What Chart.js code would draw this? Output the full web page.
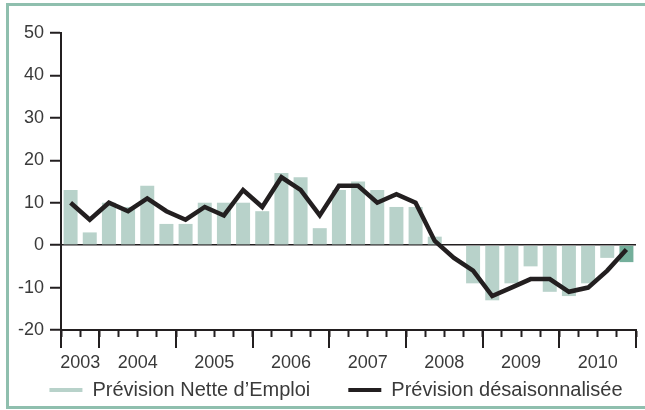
<!DOCTYPE html>
<html lang="fr">
<head>
<meta charset="utf-8">
<script src="https://cdn.jsdelivr.net/npm/chart.js@4/dist/chart.umd.min.js"></script>
<style>
  html, body { margin: 0; padding: 0; background: #fff; overflow: hidden; }
  #frame {
    position: absolute; left: 6px; top: 3px;
    width: 700px; height: 400px;
    border: 3px solid #8fbfae; border-right: none;
  }
  #chart { position: absolute; left: 7px; top: 6px; z-index: 1; display: block; }
</style>
</head>
<body>
<div id="frame"></div>
<canvas id="chart" width="658" height="404"></canvas>
<script>
// ——— Prévisions d'emploi trimestrielles, T3 2003 – T4 2010 ———
const quarters = [
  "T3 2003", "T4 2003",
  "T1 2004", "T2 2004", "T3 2004", "T4 2004",
  "T1 2005", "T2 2005", "T3 2005", "T4 2005",
  "T1 2006", "T2 2006", "T3 2006", "T4 2006",
  "T1 2007", "T2 2007", "T3 2007", "T4 2007",
  "T1 2008", "T2 2008", "T3 2008", "T4 2008",
  "T1 2009", "T2 2009", "T3 2009", "T4 2009",
  "T1 2010", "T2 2010", "T3 2010", "T4 2010"
];

// Prévision Nette d'Emploi (barres)
const netForecast = [
  13, 3,
  10, 9, 14, 5,
  5, 10, 10, 10,
  8, 17, 16, 4,
  13, 15, 13, 9,
  9, 2, 0, -9,
  -13, -9, -5, -11,
  -12, -9, -3, -4
];

// Prévision désaisonnalisée (ligne)
const seasonalAdjusted = [
  10, 6,
  10, 8, 11, 8,
  6, 9, 7, 13,
  9, 16, 13, 7,
  14, 14, 10, 12,
  10, 1, -3, -6,
  -12, -10, -8, -8,
  -11, -10, -6, -1
];

const seriesNames = ["Prévision Nette d’Emploi", "Prévision désaisonnalisée"];
const Y_MIN = -20;
const Y_MAX = 50;
const Y_STEP = 10;

const BAR_COLOR = "#b8d2ca";
const BAR_LAST = "#74af9b";
const INK = "#231f20";
const TEXT = "#3a3a3a";
const FONT = "'Liberation Sans', Arial, Helvetica, sans-serif";

// year of each quarter, year labels sit in the middle of their span
const yearOf = quarters.map(q => q.slice(-4));
const yearLabelAt = {};
const yearStarts = [];
yearOf.forEach((y, i) => {
  if (i === 0 || yearOf[i - 1] !== y) yearStarts.push(i);
});
yearStarts.forEach((start, k) => {
  const end = k + 1 < yearStarts.length ? yearStarts[k + 1] : quarters.length;
  yearLabelAt[start + (end - start) / 2] = yearOf[start];
});
const yearBounds = yearStarts.concat([quarters.length]);

// long ticks at year boundaries under the x axis
const yearTicks = {
  id: "yearTicks",
  afterDraw(chart) {
    const xs = chart.scales.x;
    const { ctx } = chart;
    const y0 = chart.chartArea.bottom;
    ctx.save();
    ctx.strokeStyle = INK;
    ctx.lineWidth = 2;
    yearBounds.forEach(b => {
      const x = Math.round(xs.getPixelForValue(b - 0.5));
      ctx.beginPath();
      ctx.moveTo(x, y0);
      ctx.lineTo(x, y0 + 18);
      ctx.stroke();
    });
    ctx.restore();
  }
};

const ctx = document.getElementById("chart").getContext("2d");
const lastIdx = netForecast.length - 1;

// invisible axis used only to reserve space
const gutter = (pos, size) => ({
  type: "linear",
  position: pos,
  min: 0,
  max: 1,
  afterFit: s => {
    if (pos === "right") s.width = size;
    else s.height = size;
  },
  grid: { display: false },
  border: { display: false },
  ticks: { display: false }
});

new Chart(ctx, {
  type: "bar",
  data: {
    labels: quarters,
    datasets: [
      {
        type: "bar",
        label: seriesNames[0],
        data: netForecast,
        backgroundColor: c => (c.dataIndex === lastIdx ? BAR_LAST : BAR_COLOR),
        borderWidth: 0,
        categoryPercentage: 1,
        barPercentage: 0.73,
        order: 2
      },
      {
        type: "line",
        label: seriesNames[1],
        data: seasonalAdjusted,
        borderColor: INK,
        backgroundColor: INK,
        borderWidth: 4.5,
        borderJoinStyle: "miter",
        pointRadius: 0,
        tension: 0,
        order: 1
      }
    ]
  },
  options: {
    responsive: false,
    animation: false,
    layout: { padding: { left: 0, right: 0, top: 27, bottom: 0 } },
    plugins: {
      tooltip: { enabled: false },
      legend: {
        position: "bottom",
        labels: {
          color: TEXT,
          font: { family: FONT, size: 20 },
          boxWidth: 33,
          boxHeight: 4,
          padding: 38,
          generateLabels() {
            return [
              { text: seriesNames[0], fillStyle: BAR_COLOR, strokeStyle: BAR_COLOR, lineWidth: 0, fontColor: TEXT, datasetIndex: 0 },
              { text: seriesNames[1], fillStyle: INK, strokeStyle: INK, lineWidth: 0, fontColor: TEXT, datasetIndex: 1 }
            ];
          }
        }
      }
    },
    scales: {
      x: {
        position: { y: Y_MIN },
        offset: true,
        grid: {
          offset: true,
          drawOnChartArea: false,
          tickLength: 6,
          tickColor: INK,
          tickWidth: 2
        },
        border: { display: true, color: INK, width: 2 },
        ticks: {
          autoSkip: false,
          maxRotation: 0,
          labelOffset: -9.58,
          padding: 16,
          color: TEXT,
          font: { family: FONT, size: 18 },
          callback: (v, i) => yearLabelAt[i] || ""
        }
      },
      y: {
        min: Y_MIN,
        max: Y_MAX,
        afterFit: s => { s.width = 54; },
        grid: {
          color: c => (c.tick && c.tick.value === 0 ? INK : "rgba(0,0,0,0)"),
          lineWidth: 1.5,
          tickLength: 11,
          tickColor: INK,
          tickWidth: 2
        },
        border: { display: true, color: INK, width: 2 },
        ticks: {
          stepSize: Y_STEP,
          padding: 6,
          color: TEXT,
          font: { family: FONT, size: 18 }
        }
      },
      gutterRight: gutter("right", 29),
      gutterBottom: gutter("bottom", 12)
    }
  },
  plugins: [yearTicks]
});
</script>
</body>
</html>
